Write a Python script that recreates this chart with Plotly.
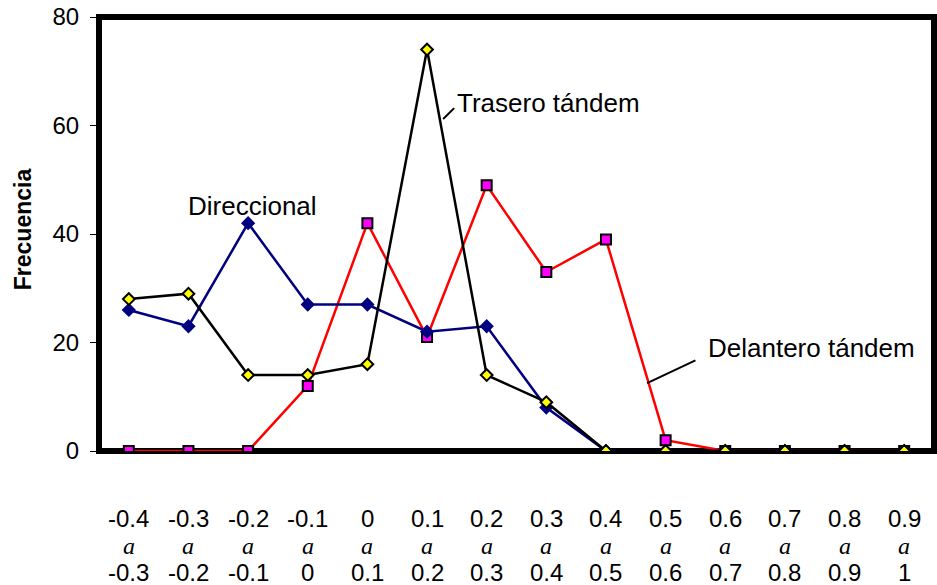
import plotly.graph_objects as go

# Class intervals (lower and upper bound of each bin)
lower_bounds = ["-0.4", "-0.3", "-0.2", "-0.1", "0", "0.1", "0.2", "0.3", "0.4", "0.5", "0.6", "0.7", "0.8", "0.9"]
upper_bounds = ["-0.3", "-0.2", "-0.1", "0", "0.1", "0.2", "0.3", "0.4", "0.5", "0.6", "0.7", "0.8", "0.9", "1"]

# Frequencies per axle type
direccional = [26, 23, 42, 27, 27, 22, 23, 8, 0, 0, 0, 0, 0, 0]
trasero_tandem = [28, 29, 14, 14, 16, 74, 14, 9, 0, 0, 0, 0, 0, 0]
delantero_tandem = [0, 0, 0, 12, 42, 21, 49, 33, 39, 2, 0, 0, 0, 0]

y_ticks = [0, 20, 40, 60, 80]

idx = list(range(len(lower_bounds)))
SANS = "Arial, Liberation Sans, sans-serif"
SERIF = "Liberation Serif, Times New Roman, serif"

fig = go.Figure()

fig.add_trace(go.Scatter(
    x=idx, y=delantero_tandem, mode="lines+markers", name="Delantero tándem",
    line=dict(color="#FF0000", width=2.5),
    marker=dict(symbol="square", size=10, color="#FF00FF",
                line=dict(color="black", width=2)),
))
fig.add_trace(go.Scatter(
    x=idx, y=direccional, mode="lines+markers", name="Direccional",
    line=dict(color="#000080", width=2.5),
    marker=dict(symbol="diamond", size=11, color="#000080",
                line=dict(color="#000080", width=0)),
))
fig.add_trace(go.Scatter(
    x=idx, y=trasero_tandem, mode="lines+markers", name="Trasero tándem",
    line=dict(color="black", width=2.5),
    marker=dict(symbol="diamond", size=9, color="#FFFF00",
                line=dict(color="black", width=2)),
))

annotations = []
# Three-line interval labels under each category
for i in idx:
    for text, shift, fam in ((lower_bounds[i], -67, SANS),
                             ("<i>a</i>", -95, SERIF),
                             (upper_bounds[i], -121, SANS)):
        annotations.append(dict(
            x=i, y=0, xref="x", yref="paper", text=text, showarrow=False,
            xanchor="center", yanchor="middle", yshift=shift,
            font=dict(family=fam, size=24, color="black"),
        ))

# Series labels
annotations += [
    dict(x=5.47, y=64.2, xref="x", yref="y", text="Trasero tándem",
         showarrow=False, xanchor="left", yanchor="middle",
         font=dict(family=SANS, size=26, color="black")),
    dict(x=2.07, y=45.2, xref="x", yref="y", text="Direccional",
         showarrow=False, xanchor="center", yanchor="middle",
         font=dict(family=SANS, size=26, color="black")),
    dict(x=11.45, y=18.9, xref="x", yref="y", text="Delantero tándem",
         showarrow=False, xanchor="center", yanchor="middle",
         font=dict(family=SANS, size=26, color="black")),
    dict(x=0, y=0.511, xref="paper", yref="paper", xshift=-76,
         text="<b>Frecuencia</b>", textangle=-90, showarrow=False,
         xanchor="center", yanchor="middle",
         font=dict(family=SANS, size=23, color="black")),
]

shapes = [
    # plot frame
    dict(type="rect", xref="paper", yref="paper", x0=0, x1=1, y0=0, y1=1,
         line=dict(color="black", width=6), layer="below"),
    # leader lines for the series labels
    dict(type="line", xref="x", yref="y", x0=5.27, y0=61.2, x1=5.455, y1=63.2,
         line=dict(color="black", width=2)),
    dict(type="line", xref="x", yref="y", x0=8.69, y0=12.5, x1=9.50, y1=16.7,
         line=dict(color="black", width=2)),
]

fig.update_layout(
    width=937, height=585,
    margin=dict(l=99, r=3, t=15, b=134),
    paper_bgcolor="white", plot_bgcolor="white",
    showlegend=False,
    annotations=annotations,
    shapes=shapes,
    xaxis=dict(range=[-0.5, len(idx) - 0.5], showgrid=False, zeroline=False,
               showline=False, showticklabels=False, ticks=""),
    yaxis=dict(range=[0, 80], tickvals=y_ticks, showgrid=False, zeroline=False,
               showline=False, ticks="outside", ticklen=8, tickwidth=1,
               tickcolor="black", ticklabelstandoff=6,
               tickfont=dict(family=SANS, size=24, color="black")),
)

fig.write_html("out.html")
